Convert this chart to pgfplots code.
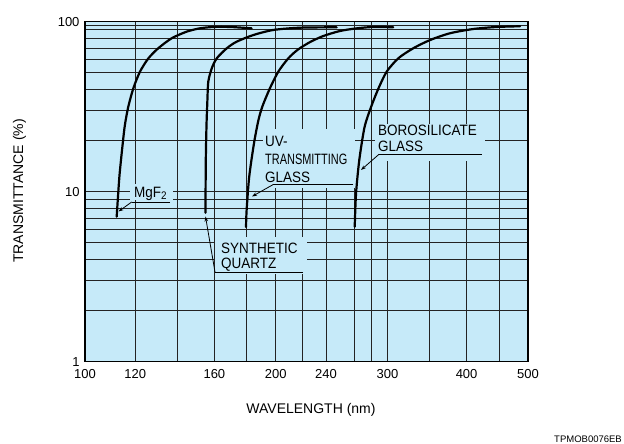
\documentclass[border=0pt]{standalone}
\usepackage{pgfplots}
\pgfplotsset{compat=1.18}
\usepackage{fontspec}
\setmainfont{Liberation Sans}
\usetikzlibrary{arrows.meta}
\definecolor{bg}{RGB}{198,234,249}
\definecolor{grd}{RGB}{35,35,35}
\newcommand\lbl[1]{\scalebox{0.9}[1]{\fontsize{15}{15}\selectfont #1}}
\newcommand\lblc[1]{\scalebox{0.73}[1]{\fontsize{15}{15}\selectfont #1}}

\pgfplotstableread{
x y
112.2 7.13
113.3 12.25
114.7 19.3
115.6 24.7
117.0 31.5
119.2 40.6
122.1 50.8
125.9 60.9
130.5 69.8
137.0 79.9
144.7 87.4
151.8 91.4
159.4 93.1
169.4 93.1
183.2 91.4
}\mgf
\pgfplotstableread{
x y
154.9 7.52
155.1 15.4
155.5 24.7
156.0 34.6
156.5 44.4
158.5 53.2
161.4 60.9
167.4 69.8
173.5 76.3
184.4 83.5
198.2 89.4
218.4 92.2
249.5 92.7
}\quartz
\pgfplotstableread{
x y
179.5 6.20
179.9 7.80
181.6 12.25
184.8 19.3
187.8 26.4
190.6 31.9
195.8 40.6
201.8 50.8
209.3 60.9
216.8 68.6
226.5 75.9
237.7 82.4
252.6 88.2
268.4 91.4
285.0 93.1
306.4 92.7
}\uvglass
\pgfplotstableread{
x y
266.4 6.22
267.7 9.79
270.9 15.4
276.1 24.0
282.7 31.5
290.5 40.6
299.2 50.8
312.1 60.9
329.6 69.8
350.3 78.0
376.6 85.5
410.0 90.6
446.4 93.1
485.7 94.0
}\boro

\begin{document}
\begin{tikzpicture}[x=1pt,y=1pt]
\path[use as bounding box] (0,0) rectangle (624,444);
\begin{axis}[
  at={(85pt,82.3pt)}, anchor=south west,
  scale only axis, width=443pt, height=340pt,
  xmode=log, ymode=log,
  xmin=100, xmax=500, ymin=1, ymax=100,
  axis background/.style={fill=bg},
  xtick={100,120,160,200,240,300,400,500},
  xticklabels={100,120,160,200,240,300,400,500},
  minor xtick={140,180,220,266,283,350,450},
  ytick={1,10,100}, yticklabels={1,10,100},
  minor ytick={2,3,4,5,6,7,8,9,20,30,40,50,60,70,80,90,95},
  grid=both,
  major grid style={grd, line width=0.9pt},
  minor grid style={grd, line width=0.9pt},
  major tick length=0pt, minor tick length=0pt,
  axis line style={black, line width=1.6pt},
  tick label style={font=\fontsize{13}{13}\selectfont},
  /pgf/number format/assume math mode=true,
  xticklabel style={yshift=-4pt},
  yticklabel style={xshift=-2pt},
]
\addplot[black, line width=2.2pt, line cap=round, smooth, tension=0.45] table {\mgf};
\addplot[black, line width=2.2pt, line cap=round, smooth, tension=0.45] table {\quartz};
\addplot[black, line width=2.2pt, line cap=round, smooth, tension=0.45] table {\uvglass};
\addplot[black, line width=2.2pt, line cap=round, smooth, tension=0.45] table {\boro};
\end{axis}

% label boxes covering the grid
\fill[bg] (130,244) rectangle (173,260);
\fill[bg] (215,170) rectangle (307,207);
\fill[bg] (263,256) rectangle (355,315);
\fill[bg] (375,283) rectangle (485,320);

% MgF2
\node[anchor=west, inner sep=0pt] at (134,250.5) {\lbl{MgF\raisebox{-0.3ex}{\fontsize{11}{11}\selectfont 2}}};
\draw[black, line width=0.8pt] (170,242) -- (131.7,242);
\draw[black, line width=0.8pt, -{Stealth[length=5pt,width=3.5pt]}] (131.7,242) -- (118.5,232.5);

% Synthetic quartz
\node[anchor=west, inner sep=0pt] at (221,196) {\lbl{SYNTHETIC}};
\node[anchor=west, inner sep=0pt] at (221,179.6) {\lbl{QUARTZ}};
\draw[black, line width=0.8pt] (303,172) -- (215,172);
\draw[black, line width=0.8pt, -{Stealth[length=5pt,width=3.5pt]}] (215,172) -- (205.5,227.5);

% UV-transmitting glass
\node[anchor=west, inner sep=0pt] at (265,302.5) {\lbl{UV-}};
\node[anchor=west, inner sep=0pt] at (265,285) {\lblc{TRANSMITTING}};
\node[anchor=west, inner sep=0pt] at (265,267) {\lbl{GLASS}};
\draw[black, line width=0.8pt] (353.3,259.5) -- (273.3,259.5);
\draw[black, line width=0.8pt, -{Stealth[length=5pt,width=3.5pt]}] (273.3,259.5) -- (252,247.5);

% Borosilicate glass
\node[anchor=west, inner sep=0pt] at (378,313.5) {\lbl{BOROSILICATE}};
\node[anchor=west, inner sep=0pt] at (378,297.5) {\lbl{GLASS}};
\draw[black, line width=0.8pt] (481.7,289.7) -- (379,289.7);
\draw[black, line width=0.8pt, -{Stealth[length=5pt,width=3.5pt]}] (379,289.7) -- (361,274);

% axis titles
\node[rotate=90, inner sep=0pt, font=\fontsize{14}{14}\selectfont] at (19.5,253) {TRANSMITTANCE (\%)};
\node[inner sep=0pt, font=\fontsize{14}{14}\selectfont] at (311,34) {WAVELENGTH (nm)};
\node[anchor=east, inner sep=0pt, font=\fontsize{9.5}{9.5}\selectfont] at (622,5) {TPMOB0076EB};
\end{tikzpicture}
\end{document}
